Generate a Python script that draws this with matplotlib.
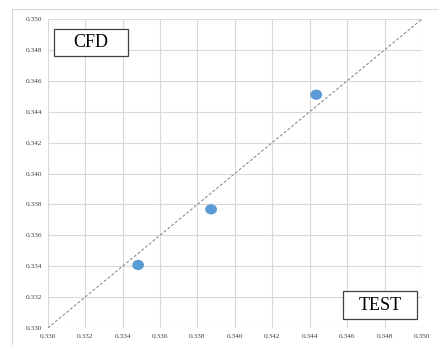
import matplotlib
matplotlib.use("Agg")
import matplotlib.pyplot as plt
from matplotlib.lines import Line2D
from matplotlib.patches import Rectangle
from matplotlib.path import Path

test_vals = [0.33483, 0.33873, 0.34435]
cfd_vals = [0.33408, 0.33768, 0.34510]
ticks = [0.330, 0.332, 0.334, 0.336, 0.338, 0.340, 0.342, 0.344, 0.346, 0.348, 0.350]
tick_labels = ["%.3f" % t for t in ticks]
ref_line = [0.330, 0.350]

plt.rcParams['font.family'] = ['Liberation Serif', 'DejaVu Serif']

fig = plt.figure(figsize=(4.39, 3.45), dpi=100)
ax = fig.add_axes([0.1087, 0.0493, 0.8526, 0.8956])

ax.set_xlim(0.330, 0.350)
ax.set_ylim(0.330, 0.350)
ax.set_xticks(ticks)
ax.set_yticks(ticks)
ax.set_xticklabels(tick_labels, fontsize=5.3, color='#404040')
ax.set_yticklabels(tick_labels, fontsize=5.3, color='#404040')
ax.tick_params(length=0, pad=4)
ax.grid(True, color='#D9D9D9', linewidth=0.8)
ax.set_axisbelow(True)
for s in ax.spines.values():
    s.set_visible(False)

ax.plot(ref_line, ref_line, linestyle=(0, (3, 2)), color='#7F7F7F', linewidth=0.7)

circ = Path.unit_circle()
ellipse = Path(circ.vertices * [1.0, 0.87], circ.codes)
ax.scatter(test_vals, cfd_vals, s=72, marker=ellipse, color='#5B9BD5', zorder=3, edgecolors='none')

for (x0, y0, x1, y1, label) in [(0.0168, 0.880, 0.2145, 0.9676, "CFD"),
                                 (0.789, 0.029, 0.9866, 0.1197, "TEST")]:
    ax.add_patch(Rectangle((x0, y0), x1 - x0, y1 - y0, transform=ax.transAxes,
                           facecolor='white', edgecolor='#404040', linewidth=0.9, zorder=4))
    ax.text((x0 + x1) / 2, (y0 + y1) / 2, label, transform=ax.transAxes, fontsize=13,
            ha='center', va='center', color='black', zorder=5)

# outer frame (left and top edges visible)
fig.add_artist(Line2D([12/439, 12/439], [0, 1 - 9/345], transform=fig.transFigure, color='#D9D9D9', linewidth=0.8))
fig.add_artist(Line2D([12/439, 1], [1 - 9/345, 1 - 9/345], transform=fig.transFigure, color='#D9D9D9', linewidth=0.8))

fig.savefig("out.png", dpi=100)
